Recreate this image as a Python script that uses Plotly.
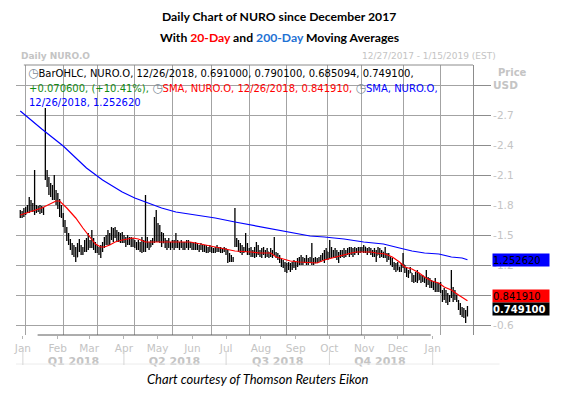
import pandas as pd
import plotly.graph_objects as go

# ---------------- data ----------------
HOLIDAYS = ["2018-01-01", "2018-01-15", "2018-02-19", "2018-03-30", "2018-05-28",
            "2018-07-04", "2018-09-03", "2018-11-22", "2018-12-05", "2018-12-25"]

HIGH = [
    1.75, 1.74, 1.77, 1.78, 1.80, 1.88, 1.85, 1.82, 2.15, 1.80, 1.79, 1.80, 1.79, 1.78, 2.77, 2.15, 2.08, 2.02, 2.00,
    2.10, 1.95, 1.92, 1.86, 1.80, 1.72, 1.65, 1.58, 1.52, 1.46, 1.42, 1.40, 1.38, 1.42, 1.46, 1.40, 1.38, 1.45, 1.47,
    1.52, 1.45, 1.55, 1.47, 1.43, 1.40, 1.38, 1.40, 1.43, 1.48, 1.50, 1.55, 1.52, 1.58, 1.57, 1.58, 1.55, 1.53, 1.52,
    1.53, 1.50, 1.48, 1.50, 1.48, 1.48, 1.47, 1.45, 1.43, 1.45, 1.43, 1.48, 1.45, 1.90, 1.48, 1.43, 1.45, 1.47, 1.68, 1.75,
    1.62, 1.60, 1.53, 1.52, 1.47, 1.45, 1.47, 1.43, 1.45, 1.45, 1.52, 1.45, 1.43, 1.45, 1.43, 1.43, 1.45, 1.45, 1.43,
    1.43, 1.42, 1.43, 1.42, 1.40, 1.42, 1.40, 1.40, 1.40, 1.38, 1.40, 1.38, 1.37, 1.38, 1.40, 1.38, 1.38, 1.37, 1.38,
    1.37, 1.35, 1.32, 1.30, 1.28, 1.77,
    1.47, 1.45, 1.42, 1.40, 1.38, 1.52, 1.42, 1.37, 1.38, 1.35, 1.38, 1.43, 1.40, 1.35, 1.37, 1.38, 1.35, 1.37, 1.33,
    1.37, 1.35, 1.48, 1.33, 1.32, 1.30, 1.27, 1.25, 1.23, 1.22, 1.23, 1.22, 1.23, 1.25, 1.23, 1.27, 1.28, 1.30, 1.28,
    1.27, 1.30, 1.27, 1.28,
    1.42, 1.27, 1.28, 1.27, 1.28, 1.30, 1.32, 1.35, 1.37, 1.33, 1.45, 1.38, 1.35, 1.37, 1.35, 1.33, 1.35, 1.35, 1.37,
    1.35, 1.37, 1.38, 1.38, 1.37, 1.38, 1.37, 1.38, 1.38, 1.38, 1.40, 1.38, 1.37, 1.38, 1.37, 1.35, 1.37, 1.35, 1.38,
    1.37, 1.35,
    1.33, 1.38, 1.32, 1.32, 1.28, 1.27, 1.23, 1.22, 1.23, 1.18, 1.22, 1.32, 1.20, 1.17, 1.15, 1.18, 1.12, 1.10, 1.13,
    1.15, 1.12, 1.10, 1.10, 1.08, 1.15, 1.08, 1.07, 1.05, 1.03, 1.07, 1.02, 1.02, 1.03, 0.95, 0.97, 0.95, 0.92, 0.90,
    1.15, 0.98, 0.95, 0.90, 0.85, 0.82, 0.78, 0.77, 0.75, 0.7901,
]
LOW = [
    1.67, 1.67, 1.68, 1.70, 1.72, 1.72, 1.74, 1.73, 1.70, 1.72, 1.73, 1.71, 1.72, 1.70, 2.05, 1.98, 1.90, 1.88, 1.85,
    1.85, 1.80, 1.76, 1.68, 1.67, 1.58, 1.52, 1.44, 1.40, 1.35, 1.30, 1.28, 1.23, 1.28, 1.33, 1.30, 1.30, 1.33, 1.33,
    1.35, 1.37, 1.37, 1.35, 1.32, 1.32, 1.30, 1.27, 1.33, 1.37, 1.40, 1.40, 1.40, 1.45, 1.43, 1.47, 1.43, 1.43, 1.42,
    1.42, 1.42, 1.38, 1.40, 1.40, 1.38, 1.38, 1.37, 1.35, 1.35, 1.33, 1.32, 1.33, 1.33, 1.37, 1.35, 1.38, 1.40, 1.42, 1.43,
    1.43, 1.42, 1.38, 1.42, 1.37, 1.35, 1.37, 1.35, 1.37, 1.35, 1.37, 1.37, 1.35, 1.37, 1.35, 1.35, 1.37, 1.35, 1.37,
    1.35, 1.35, 1.35, 1.35, 1.33, 1.35, 1.33, 1.33, 1.32, 1.32, 1.33, 1.32, 1.32, 1.32, 1.33, 1.33, 1.32, 1.32, 1.33,
    1.30, 1.22, 1.23, 1.23, 1.23, 1.38,
    1.38, 1.33, 1.32, 1.30, 1.32, 1.33, 1.30, 1.30, 1.28, 1.28, 1.27, 1.28, 1.30, 1.28, 1.27, 1.30, 1.27, 1.28, 1.27,
    1.28, 1.27, 1.30, 1.27, 1.25, 1.22, 1.18, 1.17, 1.13, 1.12, 1.15, 1.13, 1.15, 1.17, 1.15, 1.18, 1.20, 1.20, 1.20,
    1.22, 1.20, 1.20, 1.22,
    1.20, 1.20, 1.22, 1.22, 1.23, 1.23, 1.25, 1.22, 1.25, 1.25, 1.27, 1.27, 1.28, 1.27, 1.25, 1.22, 1.27, 1.28, 1.27,
    1.28, 1.30, 1.28, 1.30, 1.28, 1.30, 1.32, 1.30, 1.32, 1.33, 1.32, 1.32, 1.30, 1.32, 1.30, 1.28, 1.28, 1.23, 1.30,
    1.27, 1.28,
    1.27, 1.27, 1.23, 1.25, 1.20, 1.18, 1.15, 1.13, 1.15, 1.13, 1.13, 1.17, 1.12, 1.08, 1.07, 1.12, 1.03, 1.02, 1.03,
    1.02, 1.05, 1.02, 1.03, 1.02, 0.98, 1.00, 0.97, 0.97, 0.95, 0.93, 0.93, 0.93, 0.92, 0.83, 0.85, 0.82, 0.80, 0.83,
    0.87, 0.83, 0.85, 0.83, 0.75, 0.70, 0.68, 0.67, 0.62, 0.685094,
]
OPEN = [
    1.70, 1.72, 1.70, 1.74, 1.73, 1.78, 1.76, 1.80, 1.76, 1.77, 1.75, 1.76, 1.74, 1.76, 2.10, 2.10, 2.02, 1.95, 1.97,
    1.90, 1.92, 1.84, 1.80, 1.72, 1.70, 1.60, 1.55, 1.47, 1.43, 1.38, 1.33, 1.30, 1.28, 1.38, 1.36, 1.33, 1.35, 1.40,
    1.38, 1.44, 1.40, 1.42, 1.38, 1.35, 1.34, 1.32, 1.36, 1.40, 1.45, 1.42, 1.50, 1.46, 1.52, 1.48, 1.52, 1.47, 1.49,
    1.46, 1.48, 1.45, 1.42, 1.46, 1.43, 1.45, 1.41, 1.42, 1.38, 1.41, 1.37, 1.40, 1.36, 1.40, 1.42, 1.38, 1.42, 1.44, 1.50,
    1.52, 1.48, 1.45, 1.42, 1.45, 1.40, 1.38, 1.42, 1.38, 1.41, 1.38, 1.42, 1.40, 1.38, 1.42, 1.39, 1.40, 1.41, 1.38,
    1.40, 1.38, 1.39, 1.38, 1.37, 1.36, 1.38, 1.35, 1.37, 1.35, 1.34, 1.36, 1.34, 1.35, 1.34, 1.37, 1.35, 1.34, 1.35,
    1.34, 1.31, 1.25, 1.26, 1.25, 1.45,
    1.42, 1.40, 1.36, 1.35, 1.33, 1.36, 1.38, 1.33, 1.34, 1.31, 1.33, 1.30, 1.36, 1.33, 1.31, 1.33, 1.34, 1.30, 1.33,
    1.30, 1.34, 1.30, 1.32, 1.28, 1.27, 1.23, 1.20, 1.18, 1.15, 1.17, 1.18, 1.16, 1.20, 1.19, 1.21, 1.24, 1.22, 1.26,
    1.23, 1.25, 1.22, 1.24,
    1.25, 1.24, 1.22, 1.25, 1.24, 1.26, 1.28, 1.30, 1.27, 1.33, 1.29, 1.33, 1.30, 1.32, 1.30, 1.28, 1.30, 1.32, 1.31,
    1.34, 1.32, 1.35, 1.32, 1.36, 1.33, 1.36, 1.34, 1.36, 1.35, 1.36, 1.38, 1.34, 1.35, 1.33, 1.34, 1.31, 1.34, 1.30,
    1.35, 1.31,
    1.33, 1.29, 1.31, 1.26, 1.28, 1.22, 1.20, 1.17, 1.15, 1.18, 1.15, 1.18, 1.20, 1.14, 1.10, 1.12, 1.12, 1.05, 1.07,
    1.10, 1.05, 1.08, 1.04, 1.07, 1.04, 1.02, 1.05, 1.00, 1.02, 0.97, 1.00, 0.95, 0.98, 0.94, 0.86, 0.92, 0.85, 0.88,
    0.90, 0.95, 0.86, 0.90, 0.84, 0.78, 0.72, 0.75, 0.70, 0.691,
]
CLOSE = [
    1.72, 1.69, 1.75, 1.72, 1.78, 1.75, 1.80, 1.76, 1.78, 1.75, 1.76, 1.74, 1.77, 1.74, 2.12, 2.02, 1.95, 1.98, 1.90,
    1.92, 1.84, 1.80, 1.72, 1.70, 1.60, 1.55, 1.47, 1.43, 1.38, 1.33, 1.30, 1.27, 1.38, 1.36, 1.33, 1.35, 1.40, 1.38,
    1.45, 1.40, 1.42, 1.38, 1.35, 1.34, 1.32, 1.36, 1.40, 1.45, 1.42, 1.50, 1.46, 1.52, 1.48, 1.52, 1.47, 1.49, 1.46,
    1.48, 1.45, 1.42, 1.46, 1.43, 1.45, 1.41, 1.42, 1.38, 1.41, 1.37, 1.40, 1.36, 1.40, 1.42, 1.38, 1.42, 1.44, 1.50, 1.52,
    1.48, 1.45, 1.42, 1.45, 1.40, 1.38, 1.42, 1.38, 1.41, 1.38, 1.42, 1.40, 1.38, 1.42, 1.39, 1.40, 1.41, 1.38, 1.40,
    1.38, 1.39, 1.38, 1.37, 1.36, 1.38, 1.35, 1.37, 1.35, 1.34, 1.36, 1.34, 1.35, 1.34, 1.37, 1.35, 1.34, 1.35, 1.34,
    1.31, 1.25, 1.26, 1.25, 1.27, 1.42,
    1.40, 1.36, 1.35, 1.33, 1.36, 1.38, 1.33, 1.34, 1.31, 1.33, 1.30, 1.36, 1.33, 1.31, 1.33, 1.34, 1.30, 1.33, 1.30,
    1.34, 1.30, 1.32, 1.28, 1.27, 1.23, 1.20, 1.18, 1.15, 1.17, 1.18, 1.16, 1.20, 1.19, 1.21, 1.24, 1.22, 1.26, 1.23,
    1.25, 1.22, 1.24, 1.25,
    1.24, 1.22, 1.25, 1.24, 1.26, 1.28, 1.30, 1.27, 1.33, 1.29, 1.33, 1.30, 1.32, 1.30, 1.28, 1.30, 1.32, 1.31, 1.34,
    1.32, 1.35, 1.32, 1.36, 1.33, 1.36, 1.34, 1.36, 1.35, 1.36, 1.38, 1.34, 1.35, 1.33, 1.34, 1.31, 1.34, 1.30, 1.35,
    1.31, 1.33,
    1.29, 1.31, 1.26, 1.28, 1.22, 1.20, 1.17, 1.15, 1.19, 1.15, 1.18, 1.20, 1.14, 1.10, 1.12, 1.15, 1.05, 1.07, 1.10,
    1.05, 1.08, 1.04, 1.07, 1.04, 1.02, 1.05, 1.00, 1.02, 0.97, 1.00, 0.95, 0.98, 0.94, 0.86, 0.92, 0.85, 0.88, 0.85,
    0.95, 0.86, 0.90, 0.84, 0.78, 0.72, 0.75, 0.70, 0.6785, 0.7491,
]

# 20-day SMA, read at these bar indices
SMA20_IDX = [0, 12, 20, 22, 26, 31, 35, 39, 42, 45, 47, 50, 53, 57, 63, 66, 70, 74, 79, 87, 95, 98, 104, 109,
             115, 120, 129, 134, 140, 143, 147, 151, 156, 162, 166, 170, 174, 177, 181, 185, 188, 192, 196, 199,
             204, 208, 212, 215, 219, 223, 226, 230, 234, 237, 241, 245, 248, 250]
SMA20 = [1.70, 1.77, 1.84, 1.84, 1.77, 1.67, 1.57, 1.48, 1.41, 1.38, 1.38, 1.40, 1.43, 1.45, 1.47, 1.46, 1.43, 1.43,
         1.43, 1.43, 1.43, 1.42, 1.40, 1.38, 1.36, 1.34, 1.33, 1.32, 1.32, 1.28, 1.26, 1.24, 1.23, 1.22, 1.22, 1.25,
         1.27, 1.28, 1.30, 1.32, 1.33, 1.33, 1.33, 1.32, 1.31, 1.28, 1.23, 1.18, 1.16, 1.12, 1.08, 1.04, 1.02, 0.98,
         0.95, 0.90, 0.86, 0.84191]
# 200-day SMA, read at these bar indices
SMA200_IDX = [0, 12, 24, 31, 37, 46, 57, 64, 72, 79, 87, 98, 109, 120, 129, 140, 151, 162, 170, 181, 192, 203,
              212, 219, 226, 234, 241, 247, 250]
SMA200 = [2.74, 2.56, 2.39, 2.27, 2.17, 2.05, 1.93, 1.87, 1.82, 1.77, 1.73, 1.70, 1.67, 1.63, 1.60, 1.56, 1.52,
          1.49, 1.48, 1.46, 1.43, 1.41, 1.37, 1.34, 1.32, 1.31, 1.28, 1.27, 1.25262]

Y_TICKS = [0.6, 0.9, 1.2, 1.5, 1.8, 2.1, 2.4, 2.7, 3.0]
Y_TICK_LABELS = ["-0.6", "-0.9", "-1.2", "-1.5", "-1.8", "-2.1", "-2.4", "-2.7", "<b>USD</b>"]
QUARTER_MID = ["2018-02-15", "2018-05-16", "2018-08-16", "2018-11-15"]
QUARTER_LABELS = ["Q1 2018", "Q2 2018", "Q3 2018", "Q4 2018"]
QUARTER_EDGES = ["2018-01-01", "2018-04-01", "2018-07-01", "2018-10-01", "2019-01-01"]

# ---------------- calendar ----------------
days = pd.bdate_range("2017-12-27", "2018-12-26")
days = days[~days.isin(pd.to_datetime(HOLIDAYS))]
DATES = [d.strftime("%Y-%m-%d") for d in days]
MONTH_STARTS = [d for i, d in enumerate(DATES) if i > 0 and DATES[i - 1][:7] != d[:7]]

# ---------------- geometry helpers ----------------
W, H = 573, 399
PL, PR, PT, PB = 8, 473, 65, 335
PW, PH = PR - PL, PB - PT


def fx(px):
    return (px - PL) / PW


def fy(py):
    return (PB - py) / PH


LIGHT = "#c4c4c4"
GRID = "#a3a3a3"
FONT = "DejaVu Sans"

fig = go.Figure()
fig.add_trace(go.Ohlc(
    x=DATES, open=OPEN, high=HIGH, low=LOW, close=CLOSE,
    increasing=dict(line=dict(color="black", width=1.3)),
    decreasing=dict(line=dict(color="black", width=1.3)),
    tickwidth=0.35, showlegend=False, hoverinfo="skip",
))
fig.add_trace(go.Scatter(
    x=[DATES[i] for i in SMA200_IDX], y=SMA200, mode="lines",
    line=dict(color="#0000ff", width=1.2), showlegend=False, hoverinfo="skip"))
fig.add_trace(go.Scatter(
    x=[DATES[i] for i in SMA20_IDX], y=SMA20, mode="lines",
    line=dict(color="#ff0000", width=1.2), showlegend=False, hoverinfo="skip"))
# carriers for the calendar axes below the chart
for xa, ya in (("x2", "y2"), ("x3", "y3")):
    fig.add_trace(go.Scatter(x=["2018-06-01"], y=[0], mode="markers", marker=dict(opacity=0),
                             xaxis=xa, yaxis=ya, showlegend=False, hoverinfo="skip"))

# calendar axis mapping (Jan 1 2018 at px 15, Jan 1 2019 at px 432)
ppd = (432 - 15) / 365.0
d0 = fx(15 - ppd)
d1 = fx(432 + ppd)

annotations = []


def ann(text, x, y, size=10, color="black", xanchor="left", family=FONT, **kw):
    annotations.append(dict(text=text, x=x, y=y, xref="paper", yref="paper", showarrow=False,
                            xanchor=xanchor, yanchor="middle",
                            font=dict(size=size, color=color, family=family), **kw))


ann("<b>Daily Chart of NURO since December 2017</b>", fx(276), fy(17), size=12.2, family="Lato",
    xanchor="center")
ann("<b>With <span style='color:#ff0000'>20-Day</span> and <span style='color:#1f72d4'>200-Day</span>"
    " Moving Averages</b>", fx(276), fy(38), size=12.2, family="Lato", xanchor="center")
ann("<b>Daily NURO.O</b>", fx(11), fy(56), size=9, color=LIGHT)
ann("12/27/2017 - 1/15/2019 (EST)", fx(498), fy(56), size=9, color=LIGHT, xanchor="right")
ann("<b>Price</b>", fx(496), fy(72), size=10, color=LIGHT)

ICON = "<span style='color:#7d8b99;font-size:12px'>◷</span>"
LF = 10
ann(ICON + "BarOHLC, NURO.O, 12/26/2018, 0.691000, 0.790100, 0.685094, 0.749100,", fx(18), fy(73), size=LF)
ann("<span style='color:#138a13'>+0.070600, (+10.41%), </span>" + ICON +
    "<span style='color:#ff0000'>SMA, NURO.O, 12/26/2018, 0.841910, </span>" + ICON +
    "<span style='color:#0000ff'>SMA, NURO.O,</span>", fx(19), fy(88), size=LF)
ann("<span style='color:#0000ff'>12/26/2018, 1.252620</span>", fx(19), fy(102), size=LF)

# last-value boxes on the price axis
for val, txt, bg, fc, ys in ((1.252620, "1.252620", "#0000ff", "black", 0),
                             (0.841910, "0.841910", "#ff0000", "black", 5),
                             (0.749100, "<b>0.749100</b>", "#000000", "white", 1)):
    annotations.append(dict(text=txt, x=fx(492), y=val, xref="paper", yref="y", showarrow=False,
                            xanchor="left", yanchor="middle", yshift=ys, bgcolor=bg, width=56, height=12,
                            align="left", borderpad=0, font=dict(size=10, color=fc, family=FONT)))

ann("<i>Chart courtesy of Thomson Reuters Eikon</i>", fx(254), fy(379), size=13, family="Lato",
    xanchor="center")

shapes = [
    dict(type="line", xref="paper", yref="paper", x0=fx(16), x1=1, y0=1, y1=1,
         line=dict(color="#8c8c8c", width=1)),
    dict(type="line", xref="paper", yref="paper", x0=fx(30), x1=fx(430), y0=0, y1=0,
         line=dict(color="#5a5a5a", width=1)),
    dict(type="line", xref="paper", yref="paper", x0=fx(8), x1=fx(500), y0=fy(364), y1=fy(364),
         line=dict(color="#ececec", width=1)),
]
for q in QUARTER_EDGES:
    shapes.append(dict(type="line", xref="x2", yref="paper", x0=q, x1=q, y0=fy(351), y1=fy(365),
                       line=dict(color="#d6d6d6", width=1)))

fig.update_layout(
    width=W, height=H,
    margin=dict(l=PL, r=W - PR, t=PT, b=H - PB, pad=0),
    paper_bgcolor="white", plot_bgcolor="rgba(0,0,0,0)",
    font=dict(family=FONT, size=10, color="black"),
    showlegend=False,
    xaxis=dict(type="category", categoryorder="array", categoryarray=DATES,
               range=[-2.4, 253.1], tickvals=MONTH_STARTS, showticklabels=False, ticks="",
               showgrid=True, gridcolor=GRID, gridwidth=1, zeroline=False, showline=False,
               rangeslider=dict(visible=False), fixedrange=True),
    yaxis=dict(side="right", range=[0.5, 3.2], tickvals=Y_TICKS, ticktext=Y_TICK_LABELS,
               tickfont=dict(size=10.5, color=LIGHT, family=FONT), ticks="outside", ticklen=17,
               tickcolor="#8c8c8c", showgrid=True, gridcolor=GRID, gridwidth=1, zeroline=False,
               showline=True, linecolor="#8c8c8c", linewidth=1, fixedrange=True),
    xaxis2=dict(type="date", domain=[d0, d1], anchor="y2",
                range=["2017-12-31", "2019-01-02"], tick0="2018-01-01", dtick="M1", tickformat="%b",
                ticks="outside", ticklen=3, tickcolor="#b5b5b5",
                tickfont=dict(size=10.5, color=LIGHT, family=FONT),
                showgrid=False, zeroline=False, showline=False, fixedrange=True),
    yaxis2=dict(domain=[0, 1], visible=False, showgrid=False, range=[0, 1], fixedrange=True),
    xaxis3=dict(type="date", domain=[d0, d1], anchor="y3",
                range=["2017-12-31", "2019-01-02"], tickvals=QUARTER_MID, ticktext=QUARTER_LABELS,
                ticks="outside", ticklen=16, tickcolor="rgba(0,0,0,0)",
                tickfont=dict(size=11, color=LIGHT, family=FONT, weight="bold"),
                showgrid=False, zeroline=False, showline=False, fixedrange=True),
    yaxis3=dict(domain=[0, 1], visible=False, showgrid=False, range=[0, 1], fixedrange=True),
    annotations=annotations,
    shapes=shapes,
)

fig.write_html("out.html", config={"displayModeBar": False})
